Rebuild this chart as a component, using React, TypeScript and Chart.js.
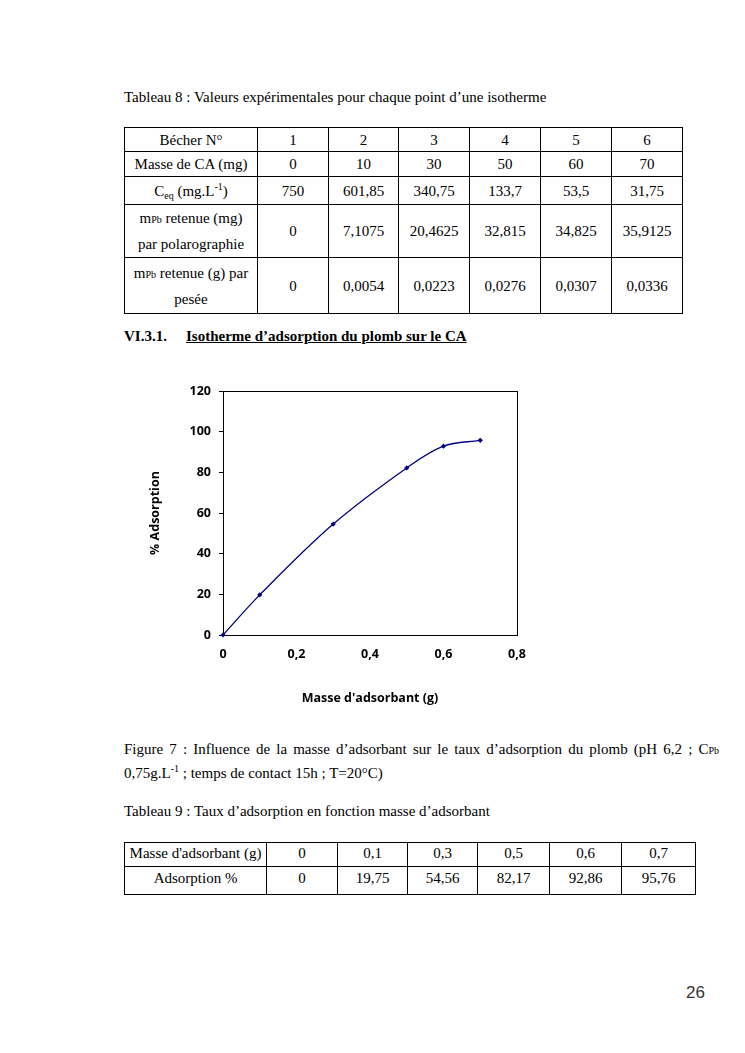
import React, { useEffect, useRef } from "react";
import { Chart, registerables } from "chart.js";

Chart.register(...registerables);

// ---- Chart data (Tableau 9 / Figure 7) ----
const massGrams = [0, 0.1, 0.3, 0.5, 0.6, 0.7];
const adsorptionPct = [0, 19.75, 54.56, 82.17, 92.86, 95.76];
const xTickLabels = ["0", "0,2", "0,4", "0,6", "0,8"];
const yTickLabels = ["0", "20", "40", "60", "80", "100", "120"];

// ---- Tableau 8 ----
const becherNums = ["1", "2", "3", "4", "5", "6"];
const masseCA = ["0", "10", "30", "50", "60", "70"];
const ceqValues = ["750", "601,85", "340,75", "133,7", "53,5", "31,75"];
const mPbPolaro = ["0", "7,1075", "20,4625", "32,815", "34,825", "35,9125"];
const mPbPesee = ["0", "0,0054", "0,0223", "0,0276", "0,0307", "0,0336"];

const fmt = (v: number) => String(v).replace(".", ",");

const SERIF = '"Liberation Serif", "Times New Roman", serif';
const SANS = '"Open Sans", "Liberation Sans", sans-serif';

const cell: React.CSSProperties = {
  border: "1px solid #000",
  padding: 0,
  textAlign: "center",
  verticalAlign: "middle",
  fontFamily: SERIF,
  fontSize: 15,
  lineHeight: "20px",
  color: "#000",
};

const small: React.CSSProperties = { fontSize: 10, lineHeight: 0 };

function AdsorptionChart() {
  const ref = useRef<HTMLCanvasElement | null>(null);
  useEffect(() => {
    if (!ref.current) return;
    const tickFont = { family: SANS, size: 12.5, weight: "bold" as const };
    const frame = {
      id: "frame",
      beforeDatasetsDraw(chart: any) {
        const { ctx, chartArea } = chart;
        ctx.save();
        ctx.strokeStyle = "#000";
        ctx.lineWidth = 1;
        ctx.strokeRect(
          Math.round(chartArea.left) + 0.5,
          Math.round(chartArea.top) + 0.5,
          Math.round(chartArea.right - chartArea.left),
          Math.round(chartArea.bottom - chartArea.top)
        );
        ctx.restore();
      },
    };
    const chart = new Chart(ref.current, {
      type: "line",
      data: {
        datasets: [
          {
            data: massGrams.map((x, i) => ({ x, y: adsorptionPct[i] })),
            borderColor: "#000080",
            backgroundColor: "#000080",
            borderWidth: 1.3,
            pointStyle: "rectRot",
            pointRadius: 2.6,
            pointBorderWidth: 0,
            tension: 0.35,
            clip: false as any,
          },
        ],
      },
      options: {
        responsive: false,
        animation: false,
        layout: { padding: { left: 0, top: 16, right: 23, bottom: 0 } },
        plugins: { legend: { display: false }, tooltip: { enabled: false } },
        scales: {
          x: {
            type: "linear",
            min: 0,
            max: 0.8,
            afterFit: (s: any) => {
              s.height = 80;
            },
            grid: { display: false, drawTicks: false },
            border: { display: true, color: "#000" },
            ticks: {
              stepSize: 0.2,
              padding: 12,
              color: "#000",
              font: tickFont,
              maxRotation: 0,
              callback: (_v: any, i: number) => xTickLabels[i],
            },
            title: {
              display: true,
              text: "Masse d'adsorbant (g)",
              color: "#000",
              font: tickFont,
              padding: { top: 0, bottom: 9.5 },
            },
          },
          y: {
            type: "linear",
            min: 0,
            max: 120,
            afterFit: (s: any) => {
              s.width = 83;
            },
            grid: {
              drawOnChartArea: false,
              drawTicks: true,
              tickLength: 4,
              color: "#000",
            },
            border: { display: true, color: "#000" },
            ticks: {
              stepSize: 20,
              padding: 8,
              color: "#000",
              font: tickFont,
              callback: (_v: any, i: number) => yTickLabels[i],
            },
            title: {
              display: true,
              text: "% Adsorption",
              color: "#000",
              font: tickFont,
              padding: { top: 7.5, bottom: 0 },
            },
          },
        },
      },
      plugins: [frame],
    });
    return () => chart.destroy();
  }, []);
  return (
    <canvas
      ref={ref}
      width={400}
      height={340}
      style={{ position: "absolute", left: 140, top: 375, width: 400, height: 340 }}
    />
  );
}

function Line({
  top,
  left,
  children,
  style,
}: {
  top: number;
  left: number;
  children: React.ReactNode;
  style?: React.CSSProperties;
}) {
  return (
    <div
      style={{
        position: "absolute",
        top,
        left,
        fontFamily: SERIF,
        fontSize: 15,
        lineHeight: "20px",
        color: "#000",
        whiteSpace: "nowrap",
        ...style,
      }}
    >
      {children}
    </div>
  );
}

export default function App() {
  const t1Widths = [133, 71, 70, 71, 71, 71, 71];
  const t2Widths = [142, 71, 70, 70, 72, 72, 74];
  return (
    <div
      style={{
        position: "absolute",
        left: 0,
        top: 0,
        width: 745,
        height: 1053,
        background: "#fff",
        overflow: "hidden",
      }}
    >
      <Line top={87} left={124}>
        Tableau 8 : Valeurs expérimentales pour chaque point d’une isotherme
      </Line>

      <table
        style={{
          position: "absolute",
          left: 124,
          top: 127,
          width: 558,
          borderCollapse: "collapse",
          tableLayout: "fixed",
        }}
      >
        <colgroup>
          {t1Widths.map((w, i) => (
            <col key={i} style={{ width: w }} />
          ))}
        </colgroup>
        <tbody>
          <tr style={{ height: 24 }}>
            <td style={cell}>Bécher N°</td>
            {becherNums.map((v, i) => (
              <td key={i} style={cell}>
                {v}
              </td>
            ))}
          </tr>
          <tr style={{ height: 25 }}>
            <td style={cell}>Masse de CA (mg)</td>
            {masseCA.map((v, i) => (
              <td key={i} style={cell}>
                {v}
              </td>
            ))}
          </tr>
          <tr style={{ height: 28 }}>
            <td style={cell}>
              C<span style={{ ...small, verticalAlign: "-3px" }}>eq</span> (mg.L
              <span style={{ ...small, verticalAlign: "6px" }}>-1</span>)
            </td>
            {ceqValues.map((v, i) => (
              <td key={i} style={cell}>
                {v}
              </td>
            ))}
          </tr>
          <tr style={{ height: 51 }}>
            <td style={{ ...cell, lineHeight: "26px" }}>
              m<span style={small}>Pb</span> retenue (mg)
              <br />
              par polarographie
            </td>
            {mPbPolaro.map((v, i) => (
              <td key={i} style={cell}>
                {v}
              </td>
            ))}
          </tr>
          <tr style={{ height: 56 }}>
            <td style={{ ...cell, lineHeight: "26px" }}>
              m<span style={small}>Pb</span> retenue (g) par
              <br />
              pesée
            </td>
            {mPbPesee.map((v, i) => (
              <td key={i} style={cell}>
                {v}
              </td>
            ))}
          </tr>
        </tbody>
      </table>

      <Line top={326} left={124} style={{ fontWeight: "bold" }}>
        VI.3.1.
      </Line>
      <Line
        top={326}
        left={186}
        style={{ fontWeight: "bold", textDecoration: "underline" }}
      >
        Isotherme d’adsorption du plomb sur le CA
      </Line>

      <AdsorptionChart />

      <div
        style={{
          position: "absolute",
          top: 739,
          left: 124,
          width: 595,
          fontFamily: SERIF,
          fontSize: 15,
          lineHeight: "20px",
          color: "#000",
          textAlign: "justify",
          textAlignLast: "justify",
        }}
      >
        Figure 7 : Influence de la masse d’adsorbant sur le taux d’adsorption du
        plomb (pH 6,2 ; C<span style={small}>Pb</span>
      </div>
      <Line top={763} left={124}>
        0,75g.L<span style={{ ...small, verticalAlign: "6px" }}>-1</span> ; temps de
        contact 15h ; T=20°C)
      </Line>

      <Line top={801} left={124}>
        Tableau 9 : Taux d’adsorption en fonction masse d’adsorbant
      </Line>

      <table
        style={{
          position: "absolute",
          left: 124,
          top: 842,
          width: 571,
          borderCollapse: "collapse",
          tableLayout: "fixed",
        }}
      >
        <colgroup>
          {t2Widths.map((w, i) => (
            <col key={i} style={{ width: w }} />
          ))}
        </colgroup>
        <tbody>
          <tr style={{ height: 24 }}>
            <td style={{ ...cell, verticalAlign: "top" }}>Masse d'adsorbant (g)</td>
            {massGrams.map((v, i) => (
              <td key={i} style={{ ...cell, verticalAlign: "top" }}>
                {fmt(v)}
              </td>
            ))}
          </tr>
          <tr style={{ height: 28 }}>
            <td style={{ ...cell, verticalAlign: "top", paddingTop: 1 }}>
              Adsorption %
            </td>
            {adsorptionPct.map((v, i) => (
              <td key={i} style={{ ...cell, verticalAlign: "top", paddingTop: 1 }}>
                {fmt(v)}
              </td>
            ))}
          </tr>
        </tbody>
      </table>

      <div
        style={{
          position: "absolute",
          top: 983,
          left: 686,
          fontFamily: '"Liberation Sans", Arial, sans-serif',
          fontSize: 17,
          lineHeight: "20px",
          color: "#333",
        }}
      >
        26
      </div>
    </div>
  );
}
